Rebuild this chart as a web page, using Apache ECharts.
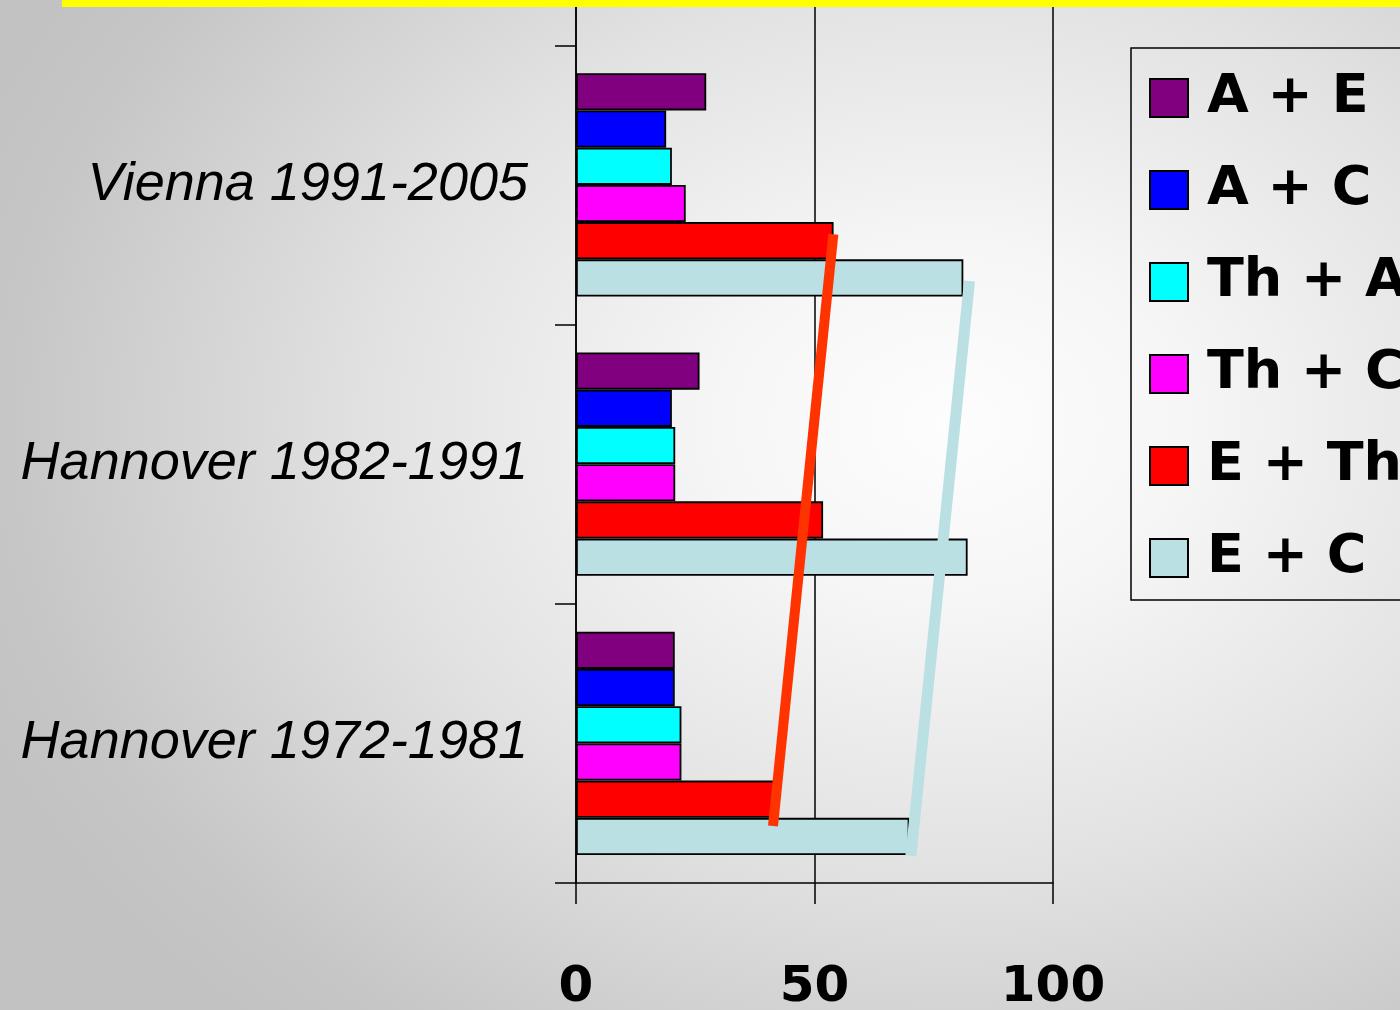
<!DOCTYPE html>
<html>
<head>
<meta charset="utf-8">
<title>Pair agreement by period</title>
<script src="https://cdn.jsdelivr.net/npm/echarts@6/dist/echarts.min.js"></script>
<style>
  html, body { margin: 0; padding: 0; }
  #chart {
    width: 1400px;
    height: 1010px;
    background: radial-gradient(ellipse 75% 80% at 68% 42%, #fdfdfd 0%, #f6f6f6 22%, #e2e2e2 55%, #c6c6c6 90%, #c2c2c2 100%);
  }
</style>
</head>
<body>
<div id="chart"></div>
<script>
// Periods, bottom to top
const categories = ['Hannover 1972-1981', 'Hannover 1982-1991', 'Vienna 1991-2005'];

// Pair names (legend order)
const seriesNames = ['A + E', 'A + C', 'Th + A', 'Th + C', 'E + Th', 'E + C'];

// Values per period (same order as categories)
const aPlusE  = [20.7, 25.9, 27.3];
const aPlusC  = [20.7, 20.1, 18.9];
const thPlusA = [22.1, 20.8, 20.1];
const thPlusC = [22.1, 20.8, 23.0];
const ePlusTh = [41.7, 51.8, 54.0];
const ePlusC  = [69.9, 82.1, 81.2];

// Trend strokes: [value, position on the period scale]
const trendETh = [[41.3, 0.204], [53.95, 2.323]];
const trendEC  = [[70.2, 0.097], [82.5, 2.156]];

// Tick values for the value axis
const xTicks = [0, 50, 100];

const colors = ['#800080', '#0000FF', '#00FFFF', '#FF00FF', '#FF0000', '#BBE0E3'];
const values = [aPlusE, aPlusC, thPlusA, thPlusC, ePlusTh, ePlusC];

const chart = echarts.init(document.getElementById('chart'), null, { renderer: 'canvas' });

const barSeries = seriesNames.map((name, i) => ({
  name: name,
  type: 'bar',
  xAxisIndex: 0,
  yAxisIndex: 0,
  data: values[i],
  barGap: '0%',
  barCategoryGap: '20%',
  itemStyle: { color: colors[i], borderColor: '#000', borderWidth: 1.8 },
  z: 2
}));

const lineBase = {
  type: 'line',
  xAxisIndex: 0,
  yAxisIndex: 1,
  symbol: 'none',
  z: 5,
  silent: true
};

const option = {
  animation: false,
  backgroundColor: 'transparent',
  grid: {
    left: 576, right: 347, top: -234, bottom: 127,
    containLabel: false,
    outerBoundsMode: 'none'
  },
  legend: {
    data: seriesNames,
    orient: 'vertical',
    left: 1131,
    top: 48,
    padding: [23, 80, 15, 18],
    itemWidth: 38,
    itemHeight: 38,
    itemGap: 38,
    icon: 'rect',
    borderColor: '#000',
    borderWidth: 1.5,
    textStyle: {
      fontFamily: 'DejaVu Sans',
      fontWeight: 'bold',
      fontSize: 54,
      color: '#000',
      padding: [0, 0, 0, 14]
    }
  },
  xAxis: {
    type: 'value',
    min: 0,
    max: 100,
    interval: 50,
    axisLine: { show: true, lineStyle: { color: '#000', width: 1.5 } },
    axisTick: { show: true, length: 21, lineStyle: { color: '#000', width: 1.5 } },
    splitLine: { show: true, lineStyle: { color: '#000', width: 1.5 } },
    axisLabel: {
      margin: 80,
      fontFamily: 'DejaVu Sans',
      fontWeight: 'bold',
      fontSize: 50,
      color: '#000',
      formatter: v => (xTicks.indexOf(v) >= 0 ? String(v) : '')
    }
  },
  yAxis: [
    {
      type: 'category',
      data: categories.concat(['']),
      axisLine: { show: true, lineStyle: { color: '#000', width: 1.5 } },
      axisTick: { show: true, length: 21, lineStyle: { color: '#000', width: 1.5 } },
      splitLine: { show: false },
      axisLabel: {
        margin: 48,
        fontFamily: 'Liberation Sans',
        fontStyle: 'italic',
        fontSize: 54,
        color: '#000'
      }
    },
    {
      type: 'value',
      min: 0,
      max: 4,
      show: false
    }
  ],
  graphic: [
    {
      type: 'rect',
      left: 62,
      top: 0,
      z: 100,
      shape: { width: 1338, height: 7 },
      style: { fill: '#FFFF00' }
    }
  ],
  series: barSeries.concat([
    Object.assign({}, lineBase, {
      name: 'E + Th trend',
      data: trendETh,
      lineStyle: { color: '#FF3300', width: 10, cap: 'butt' }
    }),
    Object.assign({}, lineBase, {
      name: 'E + C trend',
      data: trendEC,
      lineStyle: { color: '#BBE0E3', width: 11, cap: 'butt' }
    })
  ])
};

chart.setOption(option);
</script>
</body>
</html>
